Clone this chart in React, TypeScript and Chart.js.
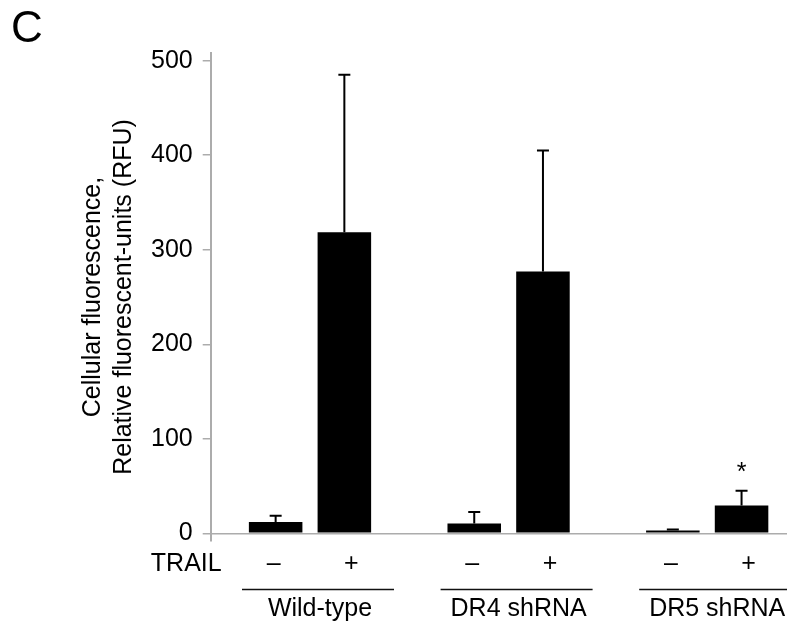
import React, { useEffect, useRef } from "react";
import { Chart, registerables } from "chart.js";

Chart.register(...registerables);

// ---- data ----
const categories = ["Wild-type", "DR4 shRNA", "DR5 shRNA"];
const trailLabels = ["–", "+"];
const minusValues = [12, 10.5, 3];
const plusValues = [318.5, 277, 29.5];
const minusErrors = [6.5, 12, 1];
const plusErrors = [166.5, 128, 15.5];
const plusMarks = ["", "", "*"];
const yTicks = [0, 100, 200, 300, 400, 500];
const yTitle = ["Cellular fluorescence,", "Relative fluorescent-units (RFU)"];
const panelLabel = "C";
const rowLabel = "TRAIL";

const FONT = '"Liberation Sans", Arial, Helvetica, sans-serif';
const AXIS_GRAY = "#acacac";
const TEXT_SIZE = 25;

const annotate = {
  id: "annotate",
  afterDatasetsDraw(chart: any) {
    const ctx = chart.ctx;
    const y = chart.scales.y;
    const errs = [minusErrors, plusErrors];
    ctx.save();
    ctx.strokeStyle = "#000";
    ctx.lineWidth = 2;
    chart.data.datasets.forEach((ds: any, di: number) => {
      const meta = chart.getDatasetMeta(di);
      meta.data.forEach((bar: any, i: number) => {
        const v = ds.data[i];
        const yTop = y.getPixelForValue(v + errs[di][i]);
        const yVal = y.getPixelForValue(v);
        const x = bar.x;
        ctx.beginPath();
        ctx.moveTo(x, yVal);
        ctx.lineTo(x, yTop);
        ctx.moveTo(x - 6, yTop);
        ctx.lineTo(x + 6, yTop);
        ctx.stroke();
      });
    });
    ctx.restore();
  },
  afterDraw(chart: any) {
    const ctx = chart.ctx;
    const xs = chart.scales.x;
    const y = chart.scales.y;
    const area = chart.chartArea;
    ctx.save();
    ctx.fillStyle = "#000";
    ctx.textBaseline = "alphabetic";

    // panel letter
    ctx.font = `44px ${FONT}`;
    ctx.textAlign = "left";
    ctx.fillText(panelLabel, 3, 33.5);

    // TRAIL row
    ctx.font = `${TEXT_SIZE}px ${FONT}`;
    ctx.textAlign = "right";
    const rowBase = area.bottom + 30;
    ctx.fillText(rowLabel, area.left + 11, rowBase);
    ctx.textAlign = "center";
    const offs = [-2, 7];
    for (let di = 0; di < 2; di++) {
      const meta = chart.getDatasetMeta(di);
      meta.data.forEach((bar: any) => {
        ctx.fillText(trailLabels[di], bar.x + offs[di], rowBase);
      });
    }

    // group lines and names
    ctx.strokeStyle = "#111";
    ctx.lineWidth = 1.5;
    categories.forEach((name, i) => {
      const cx = xs.getPixelForValue(i);
      ctx.beginPath();
      ctx.moveTo(cx - 68, area.bottom + 48.5);
      ctx.lineTo(cx + 84, area.bottom + 48.5);
      ctx.stroke();
      ctx.fillText(name, cx + 10, area.bottom + 75);
    });

    // significance marks
    const pm = chart.getDatasetMeta(1);
    pm.data.forEach((bar: any, i: number) => {
      if (!plusMarks[i]) return;
      const yTop = y.getPixelForValue(plusValues[i] + plusErrors[i]);
      ctx.fillText(plusMarks[i], bar.x, yTop - 11);
    });
    ctx.restore();
  },
};

export default function App() {
  const ref = useRef<HTMLCanvasElement | null>(null);
  useEffect(() => {
    if (!ref.current) return;
    const chart = new Chart(ref.current, {
      type: "bar",
      data: {
        labels: categories,
        datasets: [
          {
            label: "TRAIL –",
            data: minusValues,
            backgroundColor: "#000",
            borderWidth: 0,
            categoryPercentage: 0.692,
            barPercentage: 0.779,
          },
          {
            label: "TRAIL +",
            data: plusValues,
            backgroundColor: "#000",
            borderWidth: 0,
            categoryPercentage: 0.692,
            barPercentage: 0.779,
          },
        ],
      },
      options: {
        responsive: false,
        animation: false,
        layout: { padding: { left: 0, right: 1.5, top: 45, bottom: 0 } },
        plugins: {
          legend: { display: false },
          tooltip: { enabled: false },
          title: { display: false },
        },
        scales: {
          x: {
            type: "category",
            offset: true,
            grid: { display: false },
            border: { display: false },
            ticks: { display: false },
            afterFit: (s: any) => {
              s.height = 86;
            },
          },
          y: {
            type: "linear",
            min: -8.1,
            max: 508.1,
            afterBuildTicks: (s: any) => {
              s.ticks = yTicks.map((v) => ({ value: v }));
            },
            afterFit: (s: any) => {
              s.width = 202.7;
            },
            ticks: {
              color: "#000",
              font: { family: FONT, size: TEXT_SIZE },
              padding: 10,
              callback: (v: any) => String(v),
            },
            grid: {
              drawOnChartArea: true,
              color: (c: any) => (c.tick && c.tick.value === 0 ? AXIS_GRAY : "rgba(0,0,0,0)"),
              tickColor: AXIS_GRAY,
              tickLength: 8,
              lineWidth: 1.5,
            },
            border: { display: true, color: AXIS_GRAY, width: 2 },
            title: {
              display: true,
              text: yTitle,
              color: "#000",
              font: { family: FONT, size: TEXT_SIZE, lineHeight: 1.224 },
              padding: { top: 70, bottom: 0 },
            },
          },
        },
      },
      plugins: [annotate],
    });
    return () => chart.destroy();
  }, []);
  return (
    <div style={{ width: 787, height: 619, overflow: "hidden" }}>
      <canvas ref={ref} width={800} height={619} style={{ display: "block" }} />
    </div>
  );
}
